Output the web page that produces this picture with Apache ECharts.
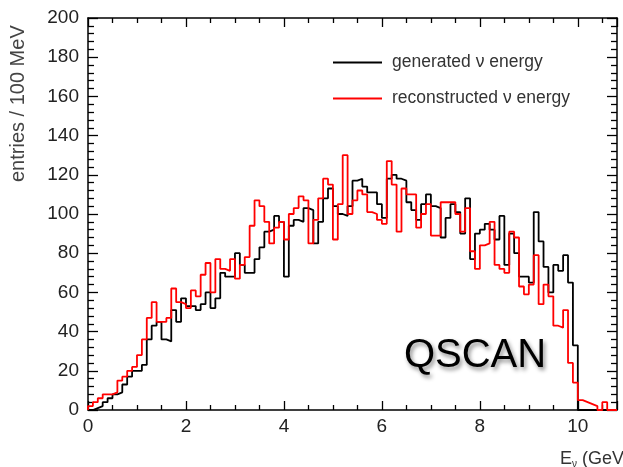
<!DOCTYPE html>
<html><head><meta charset="utf-8">
<script src="https://cdn.jsdelivr.net/npm/echarts@6/dist/echarts.min.js"></script>
<style>html,body{margin:0;padding:0;background:#fff}#c{width:623px;height:467px}</style>
</head><body><div id="c"></div>
<script>
// 0.1 GeV bins starting at 0
const binWidth = 0.1;
const xMin = 0;
const xMax = 10.8;
const yMin = 0;
const yMax = 200;
const seriesNames = ['generated ν energy', 'reconstructed ν energy'];
const generated = [
  0,1,2,4,6,8,9,13,17,20,
  20,23,36,43,45,36,35,51,45,57,
  53,53,51,54,60,52,57,70,68,68,
  80,74,70,70,77,83,91,92,99,96,
  68,94,97,96,103,102,85,96,108,113,
  104,100,99,104,117,118,114,111,111,105,
  98,118,120,118,117,106,102,97,105,110,
  104,103,88,98,105,101,90,108,77,90,
  92,95,92,87,99,74,90,80,68,68,
  65,101,86,73,60,74,71,79,65,33,
  0,0,0,0,0,0,0,0
];
const reconstructed = [
  2,4,6,8,8,9,15,17,20,22,
  28,36,47,55,45,45,47,62,55,54,
  52,61,58,69,75,60,77,72,71,77,
  67,74,78,94,107,104,96,85,93,96,
  87,100,103,109,107,85,97,108,118,115,
  87,105,130,100,107,112,110,101,100,97,
  95,127,115,91,113,110,110,93,100,105,
  89,89,106,106,106,100,91,103,81,72,
  84,85,96,74,72,70,91,88,63,59,
  64,79,54,64,58,43,42,51,24,14,
  5,4,3,2,0,4,0,0
];
const xTickInterval = 2;
const yTickInterval = 20;
const xTitle = 'E';
const xTitleSub = 'ν';
const xTitleUnit = ' (GeV)';
const yTitle = 'entries / 100 MeV';
const stamp = 'QSCAN';

function toSteps(vals) {
  const pts = [[xMin, 0]];
  vals.forEach((v, i) => pts.push([+(xMin + i * binWidth).toFixed(3), v]));
  const end = +(xMin + vals.length * binWidth).toFixed(3);
  pts.push([end, vals[vals.length - 1]]);
  pts.push([end, 0]);
  return pts;
}

const FONT = "'Liberation Sans', Arial, Helvetica, sans-serif";
const chart = echarts.init(document.getElementById('c'), null, {renderer: 'canvas'});

const axisCommon = {
  axisLine: {show: true, onZero: false, lineStyle: {color: '#000', width: 1.5}},
  splitLine: {show: false},
  minorSplitLine: {show: false}
};

chart.setOption({
  animation: false,
  backgroundColor: '#fff',
  grid: {left: 88, right: 6, top: 18, bottom: 57, containLabel: false, outerBoundsMode: 'none'},
  legend: {
    orient: 'vertical',
    left: 333, top: 53,
    padding: 0,
    itemGap: 17,
    itemWidth: 49, itemHeight: 2,
    icon: 'rect',
    data: seriesNames,
    textStyle: {fontFamily: FONT, fontSize: 17.5, color: '#333', lineHeight: 19, padding: [0, 0, 0, 5]}
  },
  xAxis: [
    Object.assign({}, axisCommon, {
      type: 'value', position: 'bottom', min: xMin, max: xMax, interval: xTickInterval,
      axisTick: {show: true, inside: true, length: 9, lineStyle: {color: '#000', width: 1.3}},
      minorTick: {show: true, splitNumber: 4, length: 5, lineStyle: {color: '#000', width: 1.3}},
      axisLabel: {show: true, showMaxLabel: false, margin: 7, fontFamily: FONT, fontSize: 19, color: '#222'}
    }),
    Object.assign({}, axisCommon, {
      type: 'value', position: 'top', min: xMin, max: xMax, interval: xTickInterval,
      axisTick: {show: true, inside: true, length: 9, lineStyle: {color: '#000', width: 1.3}},
      minorTick: {show: true, splitNumber: 4, length: 5, lineStyle: {color: '#000', width: 1.3}},
      axisLabel: {show: false}
    })
  ],
  yAxis: [
    Object.assign({}, axisCommon, {
      type: 'value', position: 'left', min: yMin, max: yMax, interval: yTickInterval,
      axisTick: {show: true, inside: true, length: 10, lineStyle: {color: '#000', width: 1.3}},
      minorTick: {show: true, splitNumber: 5, length: 6, lineStyle: {color: '#000', width: 1.3}},
      axisLabel: {show: true, margin: 9, fontFamily: FONT, fontSize: 19, color: '#222'}
    }),
    Object.assign({}, axisCommon, {
      type: 'value', position: 'right', min: yMin, max: yMax, interval: yTickInterval,
      axisTick: {show: true, inside: true, length: 10, lineStyle: {color: '#000', width: 1.3}},
      minorTick: {show: true, splitNumber: 5, length: 6, lineStyle: {color: '#000', width: 1.3}},
      axisLabel: {show: false}
    })
  ],
  series: [
    {
      name: seriesNames[0], type: 'line', step: 'end', data: toSteps(generated),
      xAxisIndex: 0, yAxisIndex: 0, showSymbol: false, symbol: 'none',
      color: '#000', lineStyle: {color: '#000', width: 1.8}, z: 3
    },
    {
      name: seriesNames[1], type: 'line', step: 'end', data: toSteps(reconstructed),
      xAxisIndex: 0, yAxisIndex: 0, showSymbol: false, symbol: 'none',
      color: '#f00', lineStyle: {color: '#f00', width: 1.8}, z: 4
    }
  ],
  graphic: [
    {
      type: 'text', x: 475, y: 356, z: 10,
      style: {
        text: stamp, font: "40px " + FONT, fill: '#000',
        textAlign: 'center', textVerticalAlign: 'middle',
        textShadowColor: 'rgba(0,0,0,0.45)', textShadowBlur: 4,
        textShadowOffsetX: 2, textShadowOffsetY: 3
      }
    },
    {
      type: 'text', x: 560, y: 459, z: 10,
      style: {
        text: '{a|' + xTitle + '}{b|' + xTitleSub + '}{a|' + xTitleUnit + '}',
        rich: {
          a: {fontFamily: FONT, fontSize: 18, fill: '#333', color: '#333'},
          b: {fontFamily: FONT, fontSize: 10, fill: '#333', color: '#333', padding: [10, 0, 0, 0]}
        },
        textAlign: 'left', textVerticalAlign: 'middle'
      }
    },
    {
      type: 'text', x: 18, y: 182, rotation: Math.PI / 2, z: 10,
      style: {
        text: yTitle, font: "20px " + FONT, fill: '#444',
        textAlign: 'left', textVerticalAlign: 'middle'
      }
    }
  ]
});
</script>
</body></html>
